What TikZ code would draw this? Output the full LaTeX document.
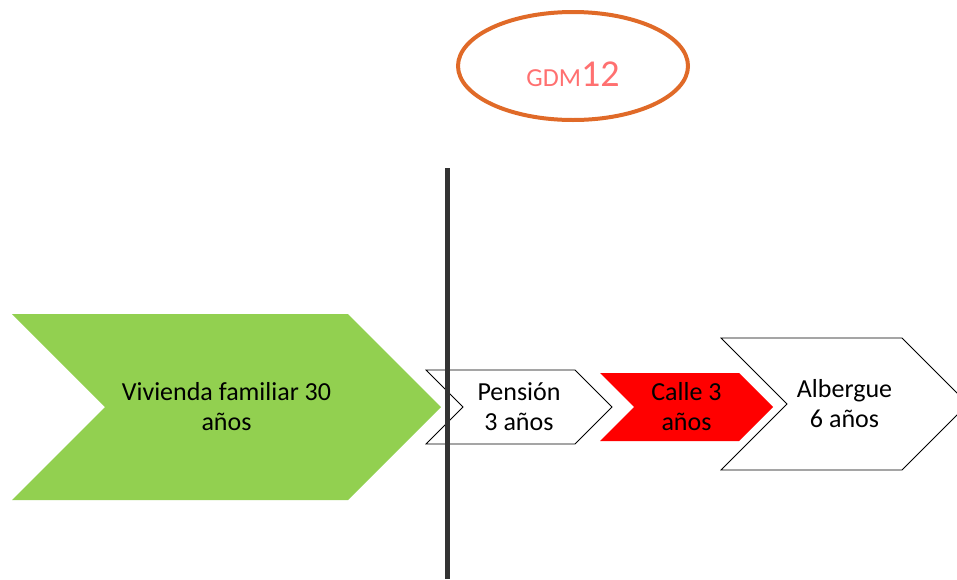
\documentclass[tikz,border=0pt]{standalone}
\usepackage{fontspec}
\setmainfont{Carlito}
\usetikzlibrary{shapes.symbols}
\usetikzlibrary{shapes.geometric}
\usetikzlibrary{positioning}
\definecolor{stagegreen}{RGB}{146,208,80}
\definecolor{ringorange}{RGB}{224,106,40}
\definecolor{tagpink}{RGB}{255,112,112}
\definecolor{cutgray}{RGB}{51,51,51}

\begin{document}
\begin{tikzpicture}[x=1pt,y=-1pt,
  stage/.style={signal,signal to=east,signal from=west,inner sep=0pt,outer sep=0pt,
    align=center,font=\fontsize{26}{30}\selectfont},
  plain/.style={stage,draw=black,line width=0.8pt,fill=white}]
  \useasboundingbox (0,0) rectangle (957,579);
  % etapas
  \node[stage,fill=stagegreen,minimum width=429,minimum height=186](vivienda) at (226.5,407) {Vivienda familiar 30\\años};
  \node[plain,minimum width=186,minimum height=74](pension) at (519,407) {Pensión\\3 años};
  \node[stage,fill=red,minimum width=173,minimum height=68](calle) at (686.5,407) {Calle 3\\años};
  \node[plain,minimum width=247,minimum height=132](albergue) at (844.5,404) {Albergue\\6 años};
  % corte
  \coordinate (cuttop) at (447,168);
  \coordinate (cutbot) at (447,579);
  \draw[cutgray,line width=5pt] (cuttop)--(cutbot);
  % etiqueta
  \node[ellipse,draw=ringorange,line width=4pt,minimum width=230,minimum height=108](ring) at (573,66) {};
  \node[anchor=base,text=tagpink](gdm) at (573,86) {\fontsize{26}{30}\selectfont GDM\fontsize{38}{40}\selectfont 12};
\end{tikzpicture}
\end{document}
